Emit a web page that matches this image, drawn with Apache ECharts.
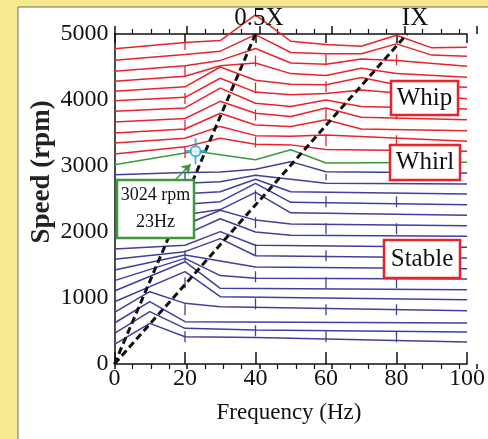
<!DOCTYPE html>
<html>
<head>
<meta charset="utf-8">
<script src="https://cdn.jsdelivr.net/npm/echarts@6/dist/echarts.min.js"></script>
<style>
  html, body { margin: 0; padding: 0; background: #f6e98f; }
  #chart { width: 488px; height: 439px; }
</style>
</head>
<body>
<div id="chart"></div>
<script>
// spectra, [frequency Hz, speed rpm] vertices
const stableLines = [
  [[0,298],[10,616],[20,414],[40,400],[100,333]],
  [[0,465],[10,793],[20,540],[40,515],[100,485]],
  [[0,621],[10,944],[20,641],[100,621]],
  [[0,783],[10,1096],[20,919],[30,869],[100,808]],
  [[0,944],[20,1399],[30,1020],[100,974]],
  [[0,1106],[20,1550],[30,1146],[100,1126]],
  [[0,1263],[20,1600],[30,1340],[40,1300],[100,1288]],
  [[0,1424],[20,1650],[30,1560],[40,1470],[100,1444]],
  [[0,1586],[20,1702],[30,1900],[40,1640],[100,1606]],
  [[0,1742],[20,1800],[30,2005],[40,1800],[100,1768]],
  [[0,1904],[20,1960],[30,2200],[40,2000],[50,1950],[100,1935]],
  [[0,2065],[20,2110],[30,2330],[40,2180],[50,2120],[100,2096]],
  [[0,2227],[20,2260],[30,2340],[40,2600],[50,2290],[100,2253]],
  [[0,2384],[20,2420],[30,2460],[40,2737],[50,2450],[100,2414]],
  [[0,2545],[20,2580],[30,2610],[40,2800],[50,2610],[100,2576]],
  [[0,2707],[20,2740],[30,2760],[40,2860],[50,2800],[60,2740],[100,2727]],
  [[0,2868],[20,2900],[30,2910],[40,2950],[50,3066],[60,2914],[100,2894]]
];
const whirlLine = [[0,3020],[23,3225],[40,3096],[50,3247],[60,3045],[100,3056]];
const whipLines = [
  [[0,3182],[20,3290],[30,3420],[40,3330],[50,3320],[60,3250],[100,3222]],
  [[0,3348],[20,3420],[30,3600],[40,3460],[50,3450],[60,3470],[100,3374]],
  [[0,3500],[20,3560],[30,3800],[40,3620],[50,3600],[60,3700],[70,3560],[100,3535]],
  [[0,3667],[20,3720],[30,3980],[40,3800],[50,3750],[60,3880],[70,3740],[100,3702]],
  [[0,3829],[20,3880],[30,4180],[40,3950],[50,3900],[60,4000],[70,3900],[100,3864]],
  [[0,3990],[20,4040],[30,4330],[40,4120],[50,4080],[60,4100],[70,4150],[100,4020]],
  [[0,4132],[20,4200],[30,4500],[40,4300],[50,4240],[60,4230],[70,4340],[80,4230],[100,4192]],
  [[0,4283],[20,4360],[30,4520],[40,4560],[50,4400],[60,4370],[70,4480],[80,4400],[100,4343]],
  [[0,4435],[20,4520],[30,4600],[40,4780],[50,4560],[60,4540],[70,4620],[80,4600],[100,4510]],
  [[0,4602],[20,4690],[30,4740],[40,4990],[50,4720],[60,4700],[70,4700],[80,4850],[90,4680],[100,4662]],
  [[0,4777],[20,4870],[30,4900],[40,5290],[50,4890],[60,4840],[70,4815],[80,4980],[90,4790],[100,4800]]
];
const halfX = [[0,0],[40,5000]];
const oneX = [[0,0],[83,5000]];
const marker = [[23,3225]];
const markerArrow = [[17.2,2788],[21.6,3026]];
// short dashed marks at 20/40/60/80 Hz
const markFreqs = [20, 40, 60, 80];
const redMarkRange = [[3120,4880],[3280,4920],[3300,4720],[3300,4700]];
const blueMarkRange = [[330,2900],[420,2880],[330,2880],[330,2800]];

const RED = '#e8232b', BLUE = '#3f3f9c', GREEN = '#3c9a3c', CYAN = '#2b9bd6';
const SERIF = '"Liberation Serif", "DejaVu Serif", serif';

const chart = echarts.init(document.getElementById('chart'));

const series = [];
function spectrum(pts, color) {
  series.push({
    type: 'line', data: pts, showSymbol: false, symbol: 'none', clip: false,
    silent: true, z: 3,
    lineStyle: { color: color, width: 1.5 }
  });
}
stableLines.forEach(p => spectrum(p, BLUE));
whipLines.forEach(p => spectrum(p, RED));
spectrum(whirlLine, GREEN);

markFreqs.forEach((f, i) => {
  series.push({
    type: 'line', data: [[f, redMarkRange[i][0]], [f, redMarkRange[i][1]]], symbol: 'none', silent: true, z: 3,
    lineStyle: { color: RED, width: 1.3, type: [11, 16] }
  });
  series.push({
    type: 'line', data: [[f, blueMarkRange[i][0]], [f, blueMarkRange[i][1]]], symbol: 'none', silent: true, z: 3,
    lineStyle: { color: BLUE, width: 1.3, type: [11, 16] }
  });
});

[halfX, oneX].forEach(d => series.push({
  type: 'line', data: d, symbol: 'none', silent: true, z: 5,
  lineStyle: { color: '#111', width: 3, type: [7, 4] }
}));

// arrow from the note box to the onset point
series.push({
  type: 'line', data: [], silent: true, z: 6,
  markLine: {
    silent: true, symbol: ['none', 'arrow'], symbolSize: 9,
    label: { show: false },
    lineStyle: { color: GREEN, width: 1.5, type: 'solid' },
    data: [[{ coord: markerArrow[0] }, { coord: markerArrow[1] }]]
  }
});
series.push({
  type: 'scatter', data: marker, silent: true, z: 7,
  symbol: 'path://M11,0L11,26M0,13L22,13', symbolSize: [22, 26],
  itemStyle: { color: 'none', borderColor: CYAN, borderWidth: 2 }
});
series.push({
  type: 'scatter', data: marker, silent: true, z: 8,
  symbol: 'circle', symbolSize: 10,
  itemStyle: { color: '#fff', borderColor: CYAN, borderWidth: 2 }
});

function labelBox(x, y, w, h, lines, stroke, size) {
  return {
    type: 'group', z: 100, children: [
      { type: 'rect', shape: { x: x, y: y, width: w, height: h }, style: { fill: '#fff', stroke: stroke, lineWidth: 2.5 }, z: 100 },
      { type: 'text', x: x + w / 2, y: y + h / 2, z: 101,
        style: { text: lines, font: size + 'px ' + SERIF, fill: '#111', align: 'center', verticalAlign: 'middle', lineHeight: size + 9 } }
    ]
  };
}

const axisText = { color: '#111', fontFamily: SERIF, fontSize: 24 };
const blackLine = { color: '#111', width: 1.5 };

chart.setOption({
  backgroundColor: '#f6e98f',
  animation: false,
  grid: [
    { left: 114.5, top: 34, width: 362.5, height: 330 },
    { left: 114.5, top: 34, width: 362.5, height: 330 }
  ],
  xAxis: [
    { gridIndex: 0, type: 'value', min: 0, max: 100, interval: 20, position: 'bottom',
      axisLine: { lineStyle: blackLine },
      axisTick: { inside: true, length: 12, lineStyle: blackLine },
      minorTick: { show: false },
      axisLabel: Object.assign({ margin: 3 }, axisText),
      splitLine: { show: false } },
    { gridIndex: 0, type: 'value', min: 0, max: 100, interval: 20, position: 'top',
      axisLine: { lineStyle: blackLine },
      axisTick: { inside: true, length: 9, lineStyle: blackLine },
      minorTick: { show: false },
      axisLabel: { show: false }, splitLine: { show: false } },
    { gridIndex: 1, type: 'value', min: 0, max: 100, interval: 20, position: 'bottom',
      axisLine: { show: false },
      axisTick: { inside: false, length: 5, lineStyle: blackLine },
      minorTick: { show: true, splitNumber: 4, length: 5, lineStyle: { color: '#111', width: 1.2 } },
      axisLabel: { show: false }, splitLine: { show: false } },
    { gridIndex: 1, type: 'value', min: 0, max: 100, interval: 20, position: 'top',
      axisLine: { show: false },
      axisTick: { inside: false, length: 8, lineStyle: blackLine },
      minorTick: { show: true, splitNumber: 4, length: 5, lineStyle: { color: '#111', width: 1.2 } },
      axisLabel: { show: false }, splitLine: { show: false } }
  ],
  yAxis: [
    { gridIndex: 0, type: 'value', min: 0, max: 5000, interval: 1000,
      axisLine: { show: true, lineStyle: blackLine },
      axisTick: { show: false },
      axisLabel: Object.assign({ margin: 6, formatter: v => String(v) }, axisText),
      splitLine: { show: false } },
    { gridIndex: 1, type: 'value', min: 0, max: 5000, show: false }
  ],
  graphic: [
    { type: 'rect', z: -100, shape: { x: 18, y: 7, width: 480, height: 440 },
      style: { fill: '#ffffff', stroke: '#6a6a6a', lineWidth: 1 } },
    { type: 'text', x: 259, y: 18, z: 50, style: { text: '0.5X', font: '25px ' + SERIF, fill: '#111', align: 'center', verticalAlign: 'middle' } },
    { type: 'text', x: 415, y: 18, z: 50, style: { text: 'IX', font: '25px ' + SERIF, fill: '#111', align: 'center', verticalAlign: 'middle' } },
    { type: 'text', x: 42, y: 172, rotation: Math.PI / 2, z: 50,
      style: { text: 'Speed (rpm)', font: 'bold 27px ' + SERIF, fill: '#222', align: 'center', verticalAlign: 'middle' } },
    { type: 'text', x: 289, y: 413, z: 50,
      style: { text: 'Frequency (Hz)', font: '23px ' + SERIF, fill: '#111', align: 'center', verticalAlign: 'middle' } },
    labelBox(117, 180, 77, 58, '3024 rpm\n23Hz', GREEN, 18),
    labelBox(391, 81, 67, 34, 'Whip', RED, 25),
    labelBox(390, 145, 70, 35, 'Whirl', RED, 25),
    labelBox(384, 240, 76, 38, 'Stable', RED, 25)
  ],
  series: series
});
</script>
</body>
</html>
